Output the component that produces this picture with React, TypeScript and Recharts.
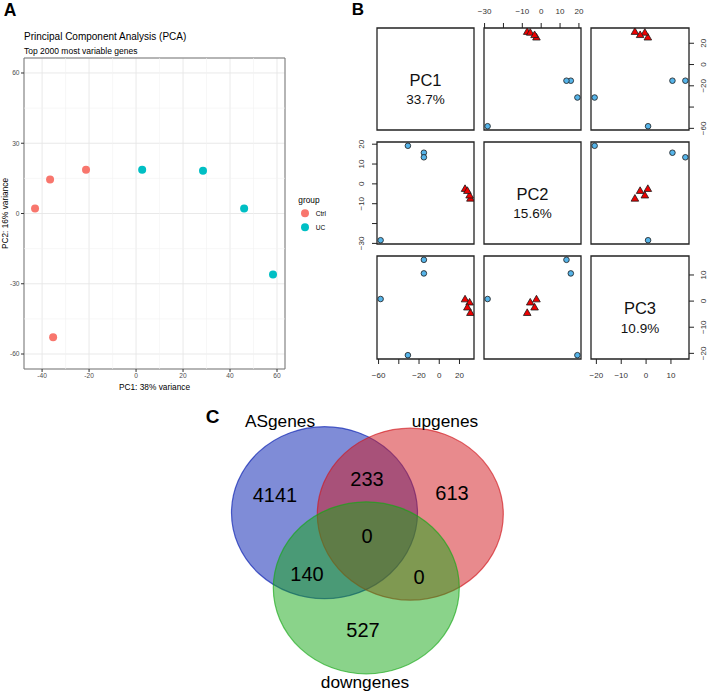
import React from 'react';
import {
  ScatterChart,
  Scatter,
  XAxis,
  YAxis,
  CartesianGrid,
  ReferenceLine,
  ReferenceArea,
} from 'recharts';

// ---- A: PCA, top 2000 most variable genes ----
const GROUPS = ['Ctrl', 'UC'];
const GROUP_COLORS = ['#F8766D', '#00BFC4'];
const CTRL_PC1 = [-43, -36.6, -21.3, -35.3];
const CTRL_PC2 = [2.1, 14.5, 18.7, -52.8];
const UC_PC1 = [2.6, 28.5, 46, 58.3];
const UC_PC2 = [18.7, 18.3, 2.1, -26];
const A_X_TICKS = [-40, -20, 0, 20, 40, 60];
const A_Y_TICKS = [-60, -30, 0, 30, 60];
const A_X_MINOR = [-30, -10, 10, 30, 50];
const A_Y_MINOR = [-45, -15, 15, 45];

// ---- B: pairs plot PC1..PC3 ----
const PC_NAMES = ['PC1', 'PC2', 'PC3'];
const PC_PCT = ['33.7%', '15.6%', '10.9%'];
const CIRCLE_PC1 = [-58, -31, -15.2, -15.2];
const CIRCLE_PC2 = [-28.4, 19.2, 15.7, 13.4];
const CIRCLE_PC3 = [0.8, -20.7, 10.6, 15.8];
const TRI_PC1 = [30.8, 25.5, 30, 27.8];
const TRI_PC2 = [-7.4, -2.5, -5.8, -3.5];
const TRI_PC3 = [-4.5, 0.7, -0.5, -2.4];
const PC1_TICKS = [-60, -40, -20, 0, 20];
const PC2_TICKS = [-30, -20, -10, 0, 10, 20];
const PC3_TICKS = [-20, -10, 0, 10];
const PC1_LABELS = [-60, -20, 0, 20];
const PC2_LABELS = [-30, -10, 0, 10, 20];
const PC3_LABELS = [-20, -10, 0, 10];

// ---- C: Venn ----
const SETS = ['ASgenes', 'upgenes', 'downgenes'];
const SET_COLORS = ['#0019AF', '#D1151B', '#15A715'];
const SET_CX = [12.45, 21.03, 16.63];
const SET_CY = [18.23, 18.08, 10.72];
const SET_LABEL_X = [8.0, 24.5, 16.5];
const SET_LABEL_Y = [27.4, 27.4, 1.26];
const REGION_COUNTS = [4141, 233, 613, 0, 140, 0, 527];
const REGION_X = [7.5, 16.7, 25.2, 16.7, 10.7, 21.9, 16.3];
const REGION_Y = [20.0, 21.6, 20.2, 15.9, 12.1, 11.8, 6.5];

const FONT = '"Liberation Sans", Arial, Helvetica, sans-serif';

// layout
const A_X_DOMAIN = [-47.7, 63.4];
const A_Y_DOMAIN = [-66.4, 66.4];
const PAD = 30;
const AX = 24;
const COL_LEFT = [377, 484, 591];
const COL_W = [97, 97, 98];
const ROW_TOP = [28, 142, 256];
const ROW_H = [102, 102, 103];
const VENN_LEFT = 200;
const VENN_TOP = 395;
const VENN_W = 320;
const VENN_H = 300;
const VENN_X = [0, 32];
const VENN_Y = [0, 30];
const SET_RX = 9.3;
const SET_RY = 8.6;

const CIRCLES = [CIRCLE_PC1, CIRCLE_PC2, CIRCLE_PC3];
const TRIS = [TRI_PC1, TRI_PC2, TRI_PC3];
const PC_TICKS = [PC1_TICKS, PC2_TICKS, PC3_TICKS];
const PC_LABELS = [PC1_LABELS, PC2_LABELS, PC3_LABELS];

const extend = (vals: number[]) => {
  const lo = Math.min(...vals);
  const hi = Math.max(...vals);
  const d = (hi - lo) * 0.04;
  return [lo - d, hi + d];
};
const PC_DOMAINS = [0, 1, 2].map((k) => extend([...CIRCLES[k], ...TRIS[k]]));

const ctrlData = CTRL_PC1.map((x, i) => ({ x, y: CTRL_PC2[i] }));
const ucData = UC_PC1.map((x, i) => ({ x, y: UC_PC2[i] }));

const PanelA = () => (
  <div style={{ position: 'absolute', left: 0, top: 0 }}>
    <ScatterChart width={340} height={400} margin={{ top: 58, right: 55, bottom: 6, left: 0 }}>
      <CartesianGrid stroke="#e6e6e6" strokeWidth={0.9} />
      {A_X_MINOR.map((v) => (
        <ReferenceLine key={'mx' + v} x={v} stroke="#f1f1f1" strokeWidth={0.6} />
      ))}
      {A_Y_MINOR.map((v) => (
        <ReferenceLine key={'my' + v} y={v} stroke="#f1f1f1" strokeWidth={0.6} />
      ))}
      <XAxis
        type="number"
        dataKey="x"
        domain={A_X_DOMAIN}
        ticks={A_X_TICKS}
        interval={0}
        allowDataOverflow
        height={25}
        axisLine={false}
        tickSize={3}
        tickMargin={1.5}
        tickLine={{ stroke: '#333' }}
        tick={{ fontSize: 6.6, fill: '#4d4d4d', fontFamily: FONT }}
      />
      <YAxis
        type="number"
        dataKey="y"
        domain={A_Y_DOMAIN}
        ticks={A_Y_TICKS}
        interval={0}
        allowDataOverflow
        width={24}
        axisLine={false}
        tickSize={3}
        tickMargin={1.5}
        tickLine={{ stroke: '#333' }}
        tick={{ fontSize: 6.6, fill: '#4d4d4d', fontFamily: FONT }}
      />
      <ReferenceArea
        x1={A_X_DOMAIN[0]}
        x2={A_X_DOMAIN[1]}
        y1={A_Y_DOMAIN[0]}
        y2={A_Y_DOMAIN[1]}
        fill="none"
        stroke="#777"
        strokeWidth={1}
      />
      <Scatter
        data={ctrlData}
        isAnimationActive={false}
        shape={(p: any) => <circle cx={p.cx} cy={p.cy} r={4} fill={GROUP_COLORS[0]} />}
      />
      <Scatter
        data={ucData}
        isAnimationActive={false}
        shape={(p: any) => <circle cx={p.cx} cy={p.cy} r={4} fill={GROUP_COLORS[1]} />}
      />
    </ScatterChart>
  </div>
);

const fmtMinus = (v: number) => (v < 0 ? '\u2212' + Math.abs(v) : String(v));

const PairTick = (props: any) => {
  const { x, y, payload, side, labels } = props;
  if (!labels.includes(payload.value)) return <g />;
  let tx = x;
  let ty = y;
  let rot = false;
  if (side === 'bottom') ty = y + 11.7;
  if (side === 'top') ty = y - 11.5;
  if (side === 'left') {
    tx = x - 10;
    rot = true;
  }
  if (side === 'right') {
    tx = x + 10;
    rot = true;
  }
  return (
    <text
      x={tx}
      y={ty}
      transform={rot ? `rotate(-90 ${tx} ${ty})` : undefined}
      textAnchor="middle"
      dominantBaseline="central"
      fontSize={8}
      fill="#333"
      fontFamily={FONT}
    >
      {fmtMinus(payload.value)}
    </text>
  );
};

const circleShape = (p: any) => (
  <circle cx={p.cx} cy={p.cy} r={2.8} fill="#56B4E9" stroke="#1a1a1a" strokeWidth={0.8} />
);
const triShape = (p: any) => (
  <polygon
    points={`${p.cx},${p.cy - 4} ${p.cx - 3.8},${p.cy + 2.6} ${p.cx + 3.8},${p.cy + 2.6}`}
    fill="#EE0000"
    stroke="#1a1a1a"
    strokeWidth={0.8}
  />
);

const PairCell = ({ r, c }: { r: number; c: number }) => {
  const top = r === 0 && c === 1;
  const bottom = r === 2 && c !== 1;
  const left = c === 0 && r === 1;
  const right = c === 2 && r !== 1;
  const margin = {
    top: top ? PAD - AX : PAD,
    bottom: bottom ? PAD - AX : PAD,
    left: left ? PAD - AX : PAD,
    right: right ? PAD - AX : PAD,
  };
  const circles = CIRCLES[c].map((x, i) => ({ x, y: CIRCLES[r][i] }));
  const tris = TRIS[c].map((x, i) => ({ x, y: TRIS[r][i] }));
  const xSide = top ? 'top' : 'bottom';
  const ySide = right ? 'right' : 'left';
  return (
    <div style={{ position: 'absolute', left: COL_LEFT[c] - PAD, top: ROW_TOP[r] - PAD }}>
      <ScatterChart width={COL_W[c] + 2 * PAD} height={ROW_H[r] + 2 * PAD} margin={margin}>
        <XAxis
          type="number"
          dataKey="x"
          domain={PC_DOMAINS[c]}
          ticks={PC_TICKS[c]}
          interval={0}
          allowDataOverflow
          orientation={xSide}
          hide={!(top || bottom)}
          height={AX}
          axisLine={false}
          tickSize={5}
          tickMargin={0}
          tickLine={{ stroke: '#222' }}
          tick={(p: any) => <PairTick {...p} side={xSide} labels={PC_LABELS[c]} />}
        />
        <YAxis
          type="number"
          dataKey="y"
          domain={PC_DOMAINS[r]}
          ticks={PC_TICKS[r]}
          interval={0}
          allowDataOverflow
          orientation={ySide}
          hide={!(left || right)}
          width={AX}
          axisLine={false}
          tickSize={5}
          tickMargin={0}
          tickLine={{ stroke: '#222' }}
          tick={(p: any) => <PairTick {...p} side={ySide} labels={PC_LABELS[r]} />}
        />
        <ReferenceArea
          x1={PC_DOMAINS[c][0]}
          x2={PC_DOMAINS[c][1]}
          y1={PC_DOMAINS[r][0]}
          y2={PC_DOMAINS[r][1]}
          fill="none"
          stroke="#222"
          strokeWidth={1.3}
        />
        <Scatter data={r === c ? [] : circles} isAnimationActive={false} shape={circleShape} />
        <Scatter data={r === c ? [] : tris} isAnimationActive={false} shape={triShape} />
      </ScatterChart>
    </div>
  );
};

const VENN_PX = VENN_W / (VENN_X[1] - VENN_X[0]);
const setData = SETS.map((name, i) => ({ name, x: SET_CX[i], y: SET_CY[i], color: SET_COLORS[i] }));
const setLabelData = SETS.map((name, i) => ({ name, x: SET_LABEL_X[i], y: SET_LABEL_Y[i] }));
const regionData = REGION_COUNTS.map((n, i) => ({ n, x: REGION_X[i], y: REGION_Y[i] }));

const PanelC = () => (
  <div style={{ position: 'absolute', left: VENN_LEFT, top: VENN_TOP }}>
    <ScatterChart width={VENN_W} height={VENN_H} margin={{ top: 0, right: 0, bottom: 0, left: 0 }}>
      <XAxis type="number" dataKey="x" domain={VENN_X} hide allowDataOverflow />
      <YAxis type="number" dataKey="y" domain={VENN_Y} hide allowDataOverflow />
      <Scatter
        data={setData}
        isAnimationActive={false}
        shape={(p: any) => (
          <ellipse
            cx={p.cx}
            cy={p.cy}
            rx={SET_RX * VENN_PX}
            ry={SET_RY * VENN_PX}
            fill={p.payload.color}
            fillOpacity={0.5}
            stroke={p.payload.color}
            strokeOpacity={0.65}
            strokeWidth={1.2}
          />
        )}
      />
      <Scatter
        data={regionData}
        isAnimationActive={false}
        shape={(p: any) => (
          <text
            x={p.cx}
            y={p.cy}
            textAnchor="middle"
            dominantBaseline="central"
            fontSize={20}
            fontFamily={FONT}
            fill="#000"
          >
            {p.payload.n}
          </text>
        )}
      />
      <Scatter
        data={setLabelData}
        isAnimationActive={false}
        shape={(p: any) => (
          <text
            x={p.cx}
            y={p.cy}
            textAnchor="middle"
            dominantBaseline="central"
            fontSize={17.3}
            fontFamily={FONT}
            fill="#000"
          >
            {p.payload.name}
          </text>
        )}
      />
    </ScatterChart>
  </div>
);

const Overlay = () => (
  <svg
    width={708}
    height={695}
    style={{ position: 'absolute', left: 0, top: 0, pointerEvents: 'none' }}
    fontFamily={FONT}
  >
    <text x={10} y={10} textAnchor="middle" dominantBaseline="central" fontSize={17.5} fontWeight="bold">A</text>
    <text x={357.8} y={9.5} textAnchor="middle" dominantBaseline="central" fontSize={17} fontWeight="bold">B</text>
    <text x={212.5} y={416.3} textAnchor="middle" dominantBaseline="central" fontSize={19} fontWeight="bold">C</text>

    <text x={24} y={36} dominantBaseline="central" fontSize={10} fill="#000">
      Principal Component Analysis (PCA)
    </text>
    <text x={24} y={50.5} dominantBaseline="central" fontSize={8.5} fill="#000">
      Top 2000 most variable genes
    </text>
    <text x={154.5} y={387} textAnchor="middle" dominantBaseline="central" fontSize={8.3} fill="#000">
      PC1: 38% variance
    </text>
    <text
      transform="translate(4.5,213.5) rotate(-90)"
      textAnchor="middle"
      dominantBaseline="central"
      fontSize={8.3}
      fill="#000"
    >
      PC2: 16% variance
    </text>

    <text x={298.3} y={200} dominantBaseline="central" fontSize={8.3} fill="#000">group</text>
    {GROUPS.map((g, i) => (
      <g key={g}>
        <circle cx={305} cy={213.3 + i * 14} r={4} fill={GROUP_COLORS[i]} />
        <text x={315.7} y={213.3 + i * 14} dominantBaseline="central" fontSize={6.6} fill="#000">
          {g}
        </text>
      </g>
    ))}

    {PC_NAMES.map((name, k) => {
      const cx = COL_LEFT[k] + COL_W[k] / 2;
      const cy = ROW_TOP[k] + ROW_H[k] / 2;
      return (
        <g key={name}>
          <text x={cx} y={cy + 0.5} textAnchor="middle" dominantBaseline="central" fontSize={16.5} fill="#111">
            {name}
          </text>
          <text x={cx} y={cy + 20.5} textAnchor="middle" dominantBaseline="central" fontSize={13.5} fill="#111">
            {PC_PCT[k]}
          </text>
        </g>
      );
    })}
  </svg>
);

export default function App() {
  return (
    <div
      style={{
        position: 'absolute',
        left: 0,
        top: 0,
        width: 708,
        height: 695,
        background: '#fff',
        overflow: 'hidden',
        fontFamily: FONT,
      }}
    >
      <PanelA />
      {[0, 1, 2].map((r) => [0, 1, 2].map((c) => <PairCell key={`${r}-${c}`} r={r} c={c} />))}
      <PanelC />
      <Overlay />
    </div>
  );
}
